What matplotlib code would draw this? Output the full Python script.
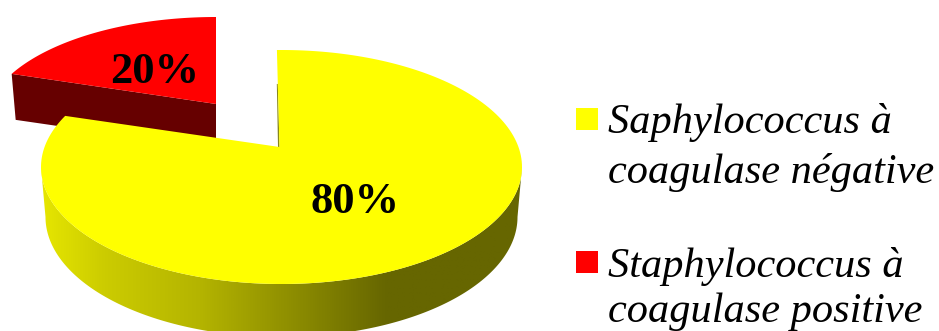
import numpy as np
import matplotlib
matplotlib.use("Agg")
import matplotlib.pyplot as plt
from matplotlib.patches import Polygon, Rectangle
from matplotlib.colors import LinearSegmentedColormap

categories = ["Saphylococcus à\ncoagulase négative", "Staphylococcus à\ncoagulase positive"]
values = [80, 20]
top_colors = ["#ffff00", "#ff0000"]

W, H = 939, 331
SERIF = ["Liberation Serif", "DejaVu Serif"]
FIRST_ANGLE = -1.3


def rim(theta_deg, cx, cy, a, b, d):
    """Project a point of the unit disc (clockwise from 12 o'clock) onto the tilted ellipse."""
    t = np.radians(theta_deg)
    u, v = np.sin(t), np.cos(t)
    den = 1 + d * v
    s = u * np.sqrt(1 - d ** 2) / den
    w = (v + d) / den
    return np.column_stack([cx + a * s, cy - b * w])


def wedge(start, end, cx, cy, a, b, d):
    arc = rim(np.linspace(start, end, 200), cx, cy, a, b, d)
    apex = np.array([[cx, cy - b * d]])
    return apex, arc


fig = plt.figure(figsize=(W / 100, H / 100), dpi=100)
ax = fig.add_axes([0, 0, 1, 1])
ax.set_xlim(0, W)
ax.set_ylim(H, 0)
ax.axis("off")

shares = np.array(values) / sum(values)
boundary = 360 * shares[0]

# Pulled-out slice: dark wall first, then its top face
red = dict(cx=216, cy=123.6, a=231, b=106.6, d=0.184)
apex_r, arc_r = wedge(boundary, 360, **red)
corner_r = arc_r[0]
wall = np.array([apex_r[0], corner_r, corner_r + [4, 46], apex_r[0] + [0, 45]])
ax.add_patch(Polygon(wall, closed=True, fc="#660000", ec="none", zorder=1))
ax.add_patch(Polygon(np.vstack([apex_r, arc_r]), closed=True, fc=top_colors[1], ec="none", zorder=2))

# Main slice: shaded rim clipped to the band between the top and bottom ellipses.
# The band starts at the points where the projected rim reaches its widest extent.
main = dict(cx=281.5, cy=167, a=240.5, b=117, d=0.171)
foot = dict(cx=281.5, cy=217, a=236, b=120, d=0.0)
widest = np.degrees(np.arccos(-main["d"]))
front_top = rim(np.linspace(360 - widest, widest, 300), **main)
front_bot = rim(np.linspace(90, 270, 300), **foot)
band = Polygon(np.vstack([front_top, front_bot]), closed=True, fc="none", ec="none",
               transform=ax.transData)
ax.add_patch(band)
shade = LinearSegmentedColormap.from_list("rim", [
    (0.0, "#e6e600"), (0.13, "#cccc00"), (0.33, "#b4b400"),
    (0.55, "#888800"), (0.72, "#666600"), (1.0, "#666600"),
])
grad = ax.imshow(np.linspace(0, 1, 512)[None, :], cmap=shade, vmin=0, vmax=1,
                 extent=[41, 522, 340, 160], aspect="auto", zorder=3,
                 interpolation="bilinear")
grad.set_clip_path(band)
ax.set_xlim(0, W)
ax.set_ylim(H, 0)

apex_m, arc_m = wedge(FIRST_ANGLE, FIRST_ANGLE + boundary, **main)
apex_m = apex_m + [-2, 0]
edge = arc_m[0] - apex_m[0]
sliver = np.array([apex_m[0], apex_m[0] + 0.65 * edge, apex_m[0] + 0.65 * edge + [-1, 0],
                   apex_m[0] + [-1.5, 0]])
ax.add_patch(Polygon(sliver, closed=True, fc="#88881a", ec="none", zorder=4))
ax.add_patch(Polygon(np.vstack([apex_m, arc_m]), closed=True, fc=top_colors[0], ec="none", zorder=5))

# Percentage labels
label_xy = [(354.5, 213), (155, 83)]
for share, (x, y) in zip(shares, label_xy):
    ax.text(x, y, f"{share * 100:.0f}%", family=SERIF, weight="bold", fontsize=32,
            color="black", ha="center", va="baseline", zorder=6)

# Legend
swatch_tops = [108, 251]
baselines = [(133, 183), (277, 322)]
for name, color, top, lines_y in zip(categories, top_colors, swatch_tops, baselines):
    ax.add_patch(Rectangle((576, top), 22, 22, fc=color, ec="none", zorder=6))
    for line, y in zip(name.split("\n"), lines_y):
        ax.text(608, y, line, family=SERIF, style="italic", fontsize=30.5,
                color="black", ha="left", va="baseline", zorder=6)

fig.savefig("out.png", dpi=100, facecolor="white")
